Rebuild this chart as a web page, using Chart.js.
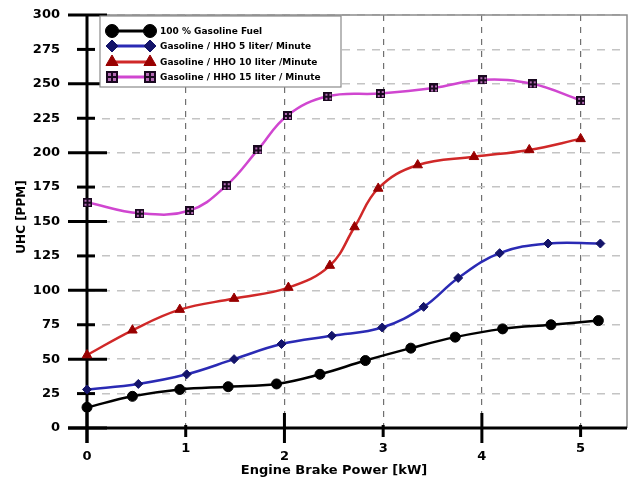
<!DOCTYPE html>
<html>
<head>
<meta charset="utf-8">
<script src="https://cdn.jsdelivr.net/npm/chart.js@4/dist/chart.umd.min.js"></script>
<style>
    html, body { margin: 0; padding: 0; background: #fff; }
</style>
</head>
<body>
<canvas id="graficoUHC" width="628" height="481"></canvas>
<script>
const potenciaGasolina = [0, 0.46, 0.94, 1.43, 1.92, 2.36, 2.82, 3.28, 3.73, 4.21, 4.70, 5.18];
const uhcGasolina = [15, 23, 28, 30, 32, 39, 49, 58, 66, 72, 75, 78];

const potenciaHHO5 = [0, 0.52, 1.01, 1.49, 1.97, 2.48, 2.99, 3.41, 3.76, 4.18, 4.67, 5.20];
const uhcHHO5 = [28, 32, 39, 50, 61, 67, 73, 88, 109, 127, 134, 134];

const potenciaHHO10 = [0, 0.46, 0.94, 1.49, 2.04, 2.46, 2.71, 2.95, 3.35, 3.92, 4.48, 5.0];
const uhcHHO10 = [53, 71, 86, 94, 102, 118, 146, 174, 191, 197, 202, 210];

const potenciaHHO15 = [0, 0.53, 1.04, 1.41, 1.73, 2.03, 2.44, 2.97, 3.51, 4.01, 4.51, 5.0];
const uhcHHO15 = [164, 156, 158, 176, 202, 227, 241, 243, 247, 253, 250, 238];

const legendas = [
    '100 % Gasoline Fuel',
    'Gasoline / HHO 5 liter/ Minute',
    'Gasoline / HHO 10 liter /Minute',
    'Gasoline / HHO 15 liter / Minute'
];
const ticksX = [0, 1, 2, 3, 4, 5];
const ticksY = [0, 25, 50, 75, 100, 125, 150, 175, 200, 225, 250, 275, 300];

const FONTE = '"DejaVu Sans", sans-serif';

function pontos(xs, ys) {
    return xs.map((v, i) => ({ x: v, y: ys[i] }));
}

// quadrado com grade (marcador da serie 15 l/min)
function marcadorQuadrado(lado) {
    const c = document.createElement('canvas');
    c.width = lado; c.height = lado;
    const g = c.getContext('2d');
    g.fillStyle = '#1a0820';
    g.fillRect(0, 0, lado, lado);
    g.fillStyle = '#b46ab4';
    const m = Math.round(lado / 2);
    const s = Math.max(1, Math.floor((lado - 5) / 2));
    g.fillRect(2, 2, s, s);
    g.fillRect(m + 1, 2, s, s);
    g.fillRect(2, m + 1, s, s);
    g.fillRect(m + 1, m + 1, s, s);
    return c;
}
const quadradoPequeno = marcadorQuadrado(9);
const quadradoLegenda = marcadorQuadrado(12);

const estilos = [
    { linha: '#000000', ponto: '#000000', estilo: 'circle', raio: 5, raioLeg: 6.5 },
    { linha: '#2a2ab4', ponto: '#14146a', estilo: 'rectRot', raio: 4.5, raioLeg: 6 },
    { linha: '#d02828', ponto: '#980000', estilo: 'triangle', raio: 5.5, raioLeg: 7 },
    { linha: '#d046d0', ponto: '#1a0820', estilo: quadradoPequeno, raio: 5, raioLeg: 6 }
];

const decoracao = {
    id: 'decoracao',
    beforeDatasetsDraw(chart) {
        const { ctx, chartArea: a, scales: { x, y } } = chart;
        ctx.save();
        ctx.strokeStyle = '#8c8c8c';
        ctx.lineWidth = 1.5;
        ctx.beginPath();
        ctx.moveTo(a.left, a.top);
        ctx.lineTo(a.right, a.top);
        ctx.lineTo(a.right, a.bottom);
        ctx.stroke();

        ctx.strokeStyle = '#000';
        ctx.lineWidth = 3;
        ticksY.forEach(v => {
            const py = y.getPixelForValue(v);
            const maior = v % 50 === 0;
            ctx.beginPath();
            ctx.moveTo(maior ? 68 : 77, py);
            ctx.lineTo(maior ? 107 : 95, py);
            ctx.stroke();
        });
        ticksX.forEach(v => {
            const px = x.getPixelForValue(v);
            const maior = v % 2 === 0;
            ctx.beginPath();
            ctx.moveTo(px, a.bottom - (maior ? 15 : 3));
            ctx.lineTo(px, a.bottom + (maior ? 15 : 9));
            ctx.stroke();
        });
        ctx.beginPath();
        ctx.moveTo(a.left, a.top);
        ctx.lineTo(a.left, a.bottom + 15);
        ctx.moveTo(68, a.bottom);
        ctx.lineTo(a.right, a.bottom);
        ctx.stroke();
        ctx.restore();
    },
    afterDraw(chart) {
        const { ctx, scales: { x } } = chart;
        ctx.save();
        ctx.fillStyle = '#000';
        ctx.textAlign = 'center';
        ctx.textBaseline = 'middle';
        ctx.font = 'bold 13px ' + FONTE;
        ticksX.forEach(v => {
            ctx.fillText(String(v), x.getPixelForValue(v), v % 2 === 0 ? 457 : 449);
        });
        ctx.fillText('Engine Brake Power [kW]', 334, 471);
        ctx.save();
        ctx.translate(22, 217);
        ctx.rotate(-Math.PI / 2);
        ctx.font = 'bold 12px ' + FONTE;
        ctx.fillText('UHC [PPM]', 0, 0);
        ctx.restore();

        // legenda
        ctx.fillStyle = '#fff';
        ctx.fillRect(100, 16, 241, 71);
        ctx.strokeStyle = '#8a8a8a';
        ctx.lineWidth = 1.2;
        ctx.strokeRect(100, 16, 241, 71);
        const linhas = [31, 46, 62, 77];
        ctx.textAlign = 'left';
        ctx.font = 'bold 9px ' + FONTE;
        estilos.forEach((e, i) => {
            const yy = linhas[i];
            ctx.strokeStyle = e.linha;
            ctx.lineWidth = 3;
            ctx.beginPath();
            ctx.moveTo(112, yy);
            ctx.lineTo(150, yy);
            ctx.stroke();
            [112, 150].forEach(px => {
                ctx.fillStyle = e.ponto;
                ctx.strokeStyle = e.ponto;
                ctx.lineWidth = 1;
                Chart.helpers.drawPoint(ctx, {
                    pointStyle: i === 3 ? quadradoLegenda : e.estilo,
                    radius: e.raioLeg,
                    rotation: 0,
                    borderWidth: 1
                }, px, yy);
            });
            ctx.fillStyle = '#000';
            ctx.fillText(legendas[i], 160, yy + 0.5);
        });
        ctx.restore();
    }
};

const series = [
    pontos(potenciaGasolina, uhcGasolina),
    pontos(potenciaHHO5, uhcHHO5),
    pontos(potenciaHHO10, uhcHHO10),
    pontos(potenciaHHO15, uhcHHO15)
];

new Chart(document.getElementById('graficoUHC'), {
    type: 'line',
    data: {
        datasets: series.map((d, i) => ({
            label: legendas[i],
            data: d,
            borderColor: estilos[i].linha,
            borderWidth: 2.5,
            backgroundColor: estilos[i].ponto,
            pointBackgroundColor: estilos[i].ponto,
            pointBorderColor: estilos[i].ponto,
            pointBorderWidth: 1,
            pointStyle: estilos[i].estilo,
            pointRadius: estilos[i].raio,
            tension: 0.4,
            fill: false,
            clip: false
        })).reverse()
    },
    options: {
        responsive: false,
        animation: false,
        devicePixelRatio: 1,
        layout: { autoPadding: false, padding: { top: 15, right: 1, left: 0, bottom: 0 } },
        plugins: {
            legend: { display: false },
            tooltip: { enabled: false }
        },
        scales: {
            x: {
                type: 'linear',
                min: 0,
                max: 5.47,
                afterFit(scale) { scale.height = 53; },
                ticks: { stepSize: 1, includeBounds: false, display: false },
                grid: { color: '#707070', lineWidth: 1.2, drawTicks: false },
                border: { display: false, dash: [6, 6] }
            },
            y: {
                min: 0,
                max: 300,
                afterFit(scale) { scale.width = 87; },
                ticks: {
                    stepSize: 25,
                    padding: 0,
                    color: '#000',
                    font: { family: FONTE, size: 13, weight: 'bold' }
                },
                grid: {
                    color: '#c4c4c4',
                    lineWidth: 1.5,
                    drawTicks: true,
                    tickLength: 27,
                    tickColor: 'rgba(0,0,0,0)'
                },
                border: { display: false, dash: [8, 7] }
            }
        }
    },
    plugins: [decoracao]
});
</script>
</body>
</html>
